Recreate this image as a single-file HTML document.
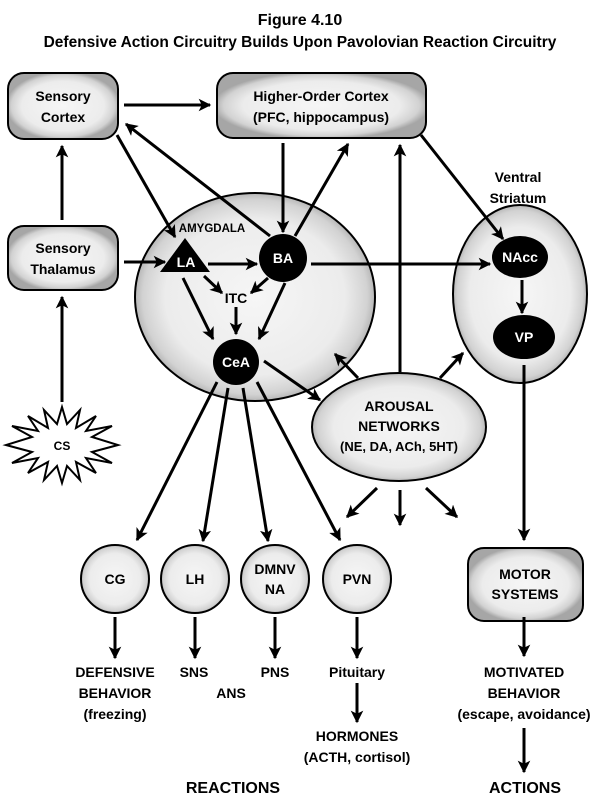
<!DOCTYPE html>
<html><head><meta charset="utf-8"><style>
body{margin:0;background:#fff}
svg{display:block}
text{font-family:"Liberation Sans",sans-serif;font-weight:bold;fill:#000;text-anchor:middle}
</style></head><body>
<svg width="601" height="800" viewBox="0 0 601 800" xmlns="http://www.w3.org/2000/svg">
<defs>
<radialGradient id="g" cx="50%" cy="50%" r="52%">
<stop offset="0" stop-color="#f6f6f6"/><stop offset="0.72" stop-color="#ececec"/><stop offset="0.9" stop-color="#d2d2d2"/><stop offset="1" stop-color="#a6a6a6"/>
</radialGradient>
<marker id="a" viewBox="0 0 10 10" refX="9" refY="5" markerWidth="4.2" markerHeight="4.2" orient="auto">
<path d="M0,0 L10,5 L0,10 L2.5,5 z" fill="#000"/></marker>
</defs>
<text x="300" y="25" font-size="16">Figure 4.10</text>
<text x="300" y="47" font-size="15.5">Defensive Action Circuitry Builds Upon Pavolovian Reaction Circuitry</text>

<g stroke="#000" stroke-width="2" fill="url(#g)">
<rect x="8" y="73" width="110" height="66" rx="16"/>
<rect x="217" y="73" width="209" height="65" rx="16"/>
<rect x="8" y="226" width="110" height="64" rx="16"/>
<ellipse cx="255" cy="297" rx="120" ry="104"/>
<ellipse cx="520" cy="294" rx="67" ry="89"/>
<ellipse cx="399" cy="427" rx="87" ry="54"/>
<circle cx="115" cy="579" r="34"/>
<circle cx="195" cy="579" r="34"/>
<circle cx="275" cy="579" r="34"/>
<circle cx="357" cy="579" r="34"/>
<rect x="468" y="548" width="115" height="73" rx="16"/>
</g>
<polygon points="185,238 160,272 210,272" fill="#000"/>
<circle cx="283" cy="258" r="24" fill="#000"/>
<circle cx="236" cy="362" r="23" fill="#000"/>
<ellipse cx="520" cy="257" rx="28" ry="21" fill="#000"/>
<ellipse cx="524" cy="337" rx="31" ry="22" fill="#000"/>
<polygon fill="#fff" stroke="#000" stroke-width="2" points="62,407 67,424 80,410 76,428 96,416 86,431 112,426 92,437 118,445 92,452 112,463 86,458 96,473 76,462 80,480 67,466 62,483 57,466 44,480 48,462 28,473 38,458 12,463 32,452 6,445 32,437 12,426 38,431 28,416 48,428 44,410 57,424"/>

<g stroke="#000" stroke-width="3" fill="none" marker-end="url(#a)">
<line x1="124" y1="105" x2="210" y2="105"/>
<line x1="62" y1="220" x2="62" y2="146"/>
<line x1="62" y1="402" x2="62" y2="297"/>
<line x1="124" y1="262" x2="165" y2="262"/>
<line x1="117" y1="135" x2="175" y2="237"/>
<line x1="270" y1="236" x2="126" y2="124"/>
<line x1="283" y1="143" x2="283" y2="232"/>
<line x1="295" y1="236" x2="348" y2="144"/>
<line x1="421" y1="135" x2="503" y2="239"/>
<line x1="208" y1="264" x2="257" y2="264"/>
<line x1="311" y1="264" x2="490" y2="264"/>
<line x1="204" y1="276" x2="222" y2="293"/>
<line x1="268" y1="278" x2="251" y2="293"/>
<line x1="236" y1="307" x2="236" y2="334"/>
<line x1="183" y1="278" x2="213" y2="339"/>
<line x1="285" y1="283" x2="259" y2="339"/>
<line x1="264" y1="361" x2="320" y2="400"/>
<line x1="358" y1="378" x2="335" y2="354"/>
<line x1="400" y1="372" x2="400" y2="145"/>
<line x1="440" y1="378" x2="463" y2="353"/>
<line x1="522" y1="280" x2="522" y2="313"/>
<line x1="524" y1="365" x2="524" y2="540"/>
<line x1="377" y1="488" x2="347" y2="517"/>
<line x1="400" y1="490" x2="400" y2="525"/>
<line x1="426" y1="488" x2="457" y2="517"/>
<line x1="217" y1="382" x2="137" y2="540"/>
<line x1="228" y1="388" x2="203" y2="541"/>
<line x1="243" y1="388" x2="268" y2="541"/>
<line x1="257" y1="382" x2="340" y2="540"/>
<line x1="115" y1="617" x2="115" y2="658"/>
<line x1="195" y1="617" x2="195" y2="658"/>
<line x1="275" y1="617" x2="275" y2="658"/>
<line x1="357" y1="617" x2="357" y2="658"/>
<line x1="357" y1="683" x2="357" y2="722"/>
<line x1="524" y1="617" x2="524" y2="656"/>
<line x1="524" y1="728" x2="524" y2="772"/>
</g>

<g font-size="14">
<text x="63" y="101">Sensory</text><text x="63" y="122">Cortex</text>
<text x="321" y="101">Higher-Order Cortex</text><text x="321" y="122">(PFC, hippocampus)</text>
<text x="63" y="253">Sensory</text><text x="63" y="274">Thalamus</text>
<text x="518" y="182">Ventral</text><text x="518" y="203">Striatum</text>
<text x="399" y="411">AROUSAL</text><text x="399" y="431">NETWORKS</text>
<text x="399" y="451" font-size="13">(NE, DA, ACh, 5HT)</text>
<text x="236" y="303">ITC</text>
<text x="115" y="584">CG</text><text x="195" y="584">LH</text>
<text x="275" y="574">DMNV</text><text x="275" y="594">NA</text>
<text x="357" y="584">PVN</text>
<text x="525" y="579">MOTOR</text><text x="525" y="599">SYSTEMS</text>
<text x="115" y="677">DEFENSIVE</text><text x="115" y="698">BEHAVIOR</text><text x="115" y="719">(freezing)</text>
<text x="194" y="677">SNS</text><text x="231" y="698">ANS</text><text x="275" y="677">PNS</text>
<text x="357" y="677">Pituitary</text>
<text x="357" y="741">HORMONES</text><text x="357" y="762">(ACTH, cortisol)</text>
<text x="524" y="677">MOTIVATED</text><text x="524" y="698">BEHAVIOR</text><text x="524" y="719">(escape, avoidance)</text>
</g>
<text x="233" y="793" font-size="16">REACTIONS</text>
<text x="525" y="793" font-size="16">ACTIONS</text>
<text x="212" y="232" font-size="11.5">AMYGDALA</text>
<g font-size="14">
<text x="186" y="267" style="fill:#fff">LA</text>
<text x="283" y="263" style="fill:#fff">BA</text>
<text x="236" y="367" style="fill:#fff">CeA</text>
<text x="520" y="262" style="fill:#fff">NAcc</text>
<text x="524" y="342" style="fill:#fff">VP</text>
</g>
<text x="62" y="450" font-size="12">CS</text>
</svg>
</body></html>
